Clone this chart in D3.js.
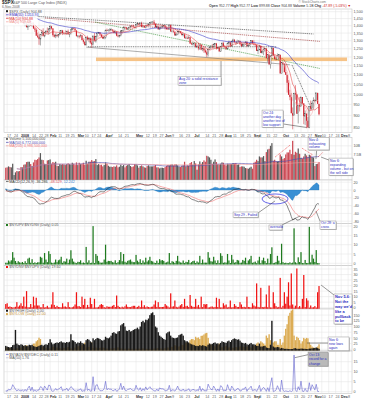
<!DOCTYPE html>
<html><head><meta charset="utf-8">
<script src="https://cdn.jsdelivr.net/npm/d3@7"></script>
<style>
body{margin:0;background:#fff}
svg{display:block;font-family:"Liberation Sans",Arial,sans-serif}
.ax text{fill:#555;font-size:3.7px}
.ax path{display:none}
</style>
</head><body>
<svg id="c" width="367" height="400"></svg>
<script>
// ---------------- DATA ----------------
// closes before the visible window (Oct 3 - Dec 13, 2007) for moving-average warm-up
const priorCloses = [1539.59,1542.84,1557.59,1552.58,1565.15,1562.47,1554.41,1561.80,1548.71,1538.53,1541.24,1540.08,1500.63,1506.33,1519.59,1515.88,1514.40,1535.28,1540.98,1531.02,1549.38,
1508.44,1509.65,1502.17,1520.27,1475.62,1474.77,1453.70,1439.18,1481.05,1470.58,1451.15,1458.74,1433.27,1439.70,1416.77,1440.70,1407.22,1428.23,1469.02,1469.72,1481.14,
1472.42,1462.79,1485.01,1507.34,1504.66,1515.96,1477.65,1486.59,1488.41];
// daily closes Dec 14 2007 .. Nov 6 2008
const closes = [
1467.95,1445.90,1454.98,1453.00,1460.12,1484.46,1496.45,1497.66,1476.27,1478.49,1468.36,
1447.16,1447.16,1411.63,1416.18,1390.19,1409.13,1420.33,1401.02,1416.25,1380.95,1373.20,1333.25,1325.19,1310.50,1338.60,1352.07,1330.61,1353.96,1362.30,1355.81,1378.55,
1395.42,1380.82,1336.64,1326.45,1336.91,1331.29,1339.13,1348.86,1367.21,1348.86,1349.99,1348.78,1360.03,1342.53,1353.11,1371.80,1381.29,1380.02,1367.68,1330.63,
1331.34,1326.75,1333.70,1304.34,1293.37,1273.37,1320.65,1308.77,1315.48,1288.14,1276.60,1330.74,1298.42,1329.51,1349.88,1352.99,1341.13,1325.76,1315.22,1322.70,
1370.18,1367.53,1369.31,1370.40,1372.54,1365.54,1354.49,1360.55,1332.83,1328.32,1334.43,1364.71,1365.56,1390.33,1388.17,1375.94,1379.93,1388.82,1397.84,1396.37,1390.94,1385.59,
1409.34,1413.90,1407.49,1418.26,1392.57,1397.68,1388.28,1403.58,1403.04,1408.66,1423.57,1425.35,1426.63,1413.40,1390.71,1394.35,1375.93,1385.35,1390.84,1398.26,1400.38,
1385.67,1377.65,1377.20,1404.05,1360.68,1361.76,1358.44,1335.49,1339.87,1360.03,1360.14,1350.93,1337.81,1342.83,1317.93,1318.00,1314.29,1321.97,1283.15,1278.38,1280.00,
1284.91,1261.52,1262.90,1252.31,1273.70,1244.69,1253.39,1239.49,1228.30,1214.91,1245.36,1260.32,1260.68,1260.00,1277.00,1282.19,1252.54,1257.76,1234.37,1263.20,1284.26,1267.38,
1260.31,1249.01,1284.88,1289.19,1266.07,1296.32,1305.32,1289.59,1285.83,1292.93,1298.20,1278.60,1266.69,1274.54,1277.72,1292.20,1266.84,1271.51,1281.66,1300.68,1282.83,
1277.58,1274.98,1236.83,1242.31,1267.79,1224.51,1232.04,1249.05,1251.70,1192.70,1213.60,1156.39,1206.51,1255.08,1207.09,1188.22,1185.87,1209.18,1213.27,1106.42,1166.36,
1161.06,1114.28,1099.23,1056.89,996.23,984.94,909.92,899.22,1003.35,998.01,907.84,946.43,940.55,985.40,955.05,896.78,908.11,876.77,848.92,940.51,930.09,954.09,968.75,
966.30,1005.75,952.77,904.88];
// intraday extension of the high above / the low below the candle body (index points)
const highExt = [
8,15,10,8,5,4,3,4,8,6,10,
6,8,3,10,14,3,8,15,5,10,12,10,20,18,2,20,30,4,8,25,5,
10,4,3,8,10,4,3,20,4,4,6,18,6,14,4,6,8,6,4,3,
4,4,10,4,10,3,2,12,8,6,30,3,20,3,8,5,4,4,13,8,
2,10,8,12,10,4,8,8,4,8,4,4,4,5,4,4,8,6,4,8,12,4,
2,8,4,4,10,6,4,4,8,4,2,4,4,14,4,12,4,8,6,4,4,
4,8,8,4,4,8,12,4,10,4,6,4,6,6,4,10,8,12,2,6,8,
4,4,11,22,4,4,4,8,12,8,2,4,10,18,6,4,4,2,4,4,6,10,
4,4,4,12,8,4,8,6,4,14,6,4,12,10,4,4,6,10,4,4,4,
20,3,0,1,6,0,11,0,3,0,0,0,4,10,0,7,9,12,2,0,3,
4,0,39,0,15,25,20,26,3,41,1,2,38,0,0,0,14,0,16,0,28,10,15,
6,1,0,0];
const lowExt = [
5,4,10,8,6,3,2,5,3,10,3,
5,6,3,16,2,20,18,4,8,2,15,3,8,36,40,8,2,8,6,8,15,
10,6,10,6,10,8,12,2,4,12,9,4,10,4,20,12,4,6,5,4,
10,12,6,2,12,4,4,6,18,8,20,6,4,10,2,6,8,2,4,6,
10,4,8,8,4,8,6,12,4,6,8,6,12,8,4,6,6,6,8,4,6,4,
6,4,4,10,4,8,4,6,6,6,12,6,6,4,6,6,4,4,8,6,6,
12,6,4,4,2,6,6,4,4,4,8,4,4,10,4,4,4,4,4,6,8,
12,6,4,12,10,4,10,14,6,15,12,4,4,8,8,6,8,4,4,4,4,8,
10,6,2,4,4,4,6,2,12,6,4,6,6,6,8,4,6,4,6,4,4,
6,12,1,20,0,1,4,21,16,1,24,0,23,0,2,1,6,0,22,0,0,
6,3,1,50,0,15,1,59,0,26,1,43,23,0,3,35,39,32,3,4,8,0,26,
4,0,1,5];
// volume, billions of shares
const volumeB = [
3.4,3.5,3.8,3.6,3.5,4.6,1.2,2.0,2.4,2.3,2.4,
3.6,3.5,4.3,4.4,5.1,5.2,5.2,4.5,3.9,5.0,5.8,5.7,6.0,6.5,7.8,5.8,5.7,4.6,4.5,5.6,5.7,
5.9,4.6,5.1,4.9,5.2,4.0,3.9,4.5,4.3,4.5,4.3,4.2,4.5,4.7,4.5,4.3,4.9,4.6,4.2,5.0,
4.2,4.9,4.5,4.5,4.9,4.3,5.5,4.6,5.2,5.2,5.7,5.3,5.4,6.0,4.2,4.5,4.2,4.3,3.8,4.2,
5.0,4.6,4.0,3.7,3.7,3.6,3.8,3.7,4.1,3.5,3.7,4.3,3.9,4.2,3.5,4.0,4.2,4.5,3.9,3.6,3.8,4.5,
4.4,4.1,3.4,3.9,4.1,3.8,3.5,3.4,3.9,4.1,3.8,3.8,3.8,3.9,4.2,3.5,3.5,3.2,3.4,3.4,3.3,
3.6,4.0,4.2,4.1,4.3,4.4,4.1,4.4,4.4,4.1,3.7,3.6,4.0,4.1,5.2,3.8,4.1,4.0,4.8,5.1,4.3,
5.4,4.7,2.8,4.4,5.3,4.6,5.1,5.6,5.2,7.0,6.8,6.5,5.8,4.6,5.2,5.9,5.1,4.4,4.3,4.6,5.0,4.9,
4.3,4.1,4.6,4.5,4.5,4.5,4.8,4.7,4.8,4.3,4.4,3.6,3.8,3.8,3.7,3.3,3.2,3.1,3.4,3.7,3.1,
4.9,5.2,5.8,5.4,6.8,6.5,6.5,6.9,5.4,8.1,8.9,9.1,10.0,10.8,5.5,5.8,5.3,5.3,5.4,7.4,6.8,
6.0,6.3,7.4,8.0,8.0,8.8,7.5,11.5,7.3,8.2,7.9,9.2,7.6,6.4,6.2,6.8,7.6,7.1,6.6,7.3,7.1,6.6,6.5,
3.9,4.5,4.6,5.1];
// $NYUPV:$NYDNV
const upDownVol = [
0.3,0.25,1.5,0.9,1.6,6,3,1.2,0.2,1.1,0.5,
0.25,0.7,0.1,1.1,0.07,2.5,3,0.3,2.2,0.1,0.5,0.11,0.5,0.5,3.5,3,0.3,5.5,2,0.6,6.5,
5,0.35,0.07,0.4,2,0.6,1.6,2,3.5,0.25,1.1,0.9,2.5,0.2,2,7,2.5,0.9,0.35,0.07,
0.8,0.7,1.6,0.1,0.4,0.12,8.8,0.4,1.6,0.11,0.3,20,0.12,5,4,1.3,0.4,0.3,0.4,2,
10,0.8,1.3,1.2,1.3,0.6,0.4,1.6,0.09,0.6,1.7,6,1.1,5,0.8,0.35,1.3,1.6,2,0.9,0.6,0.6,
4.5,1.4,0.6,2.2,0.15,1.5,0.45,3,0.9,1.6,3.5,1.3,1.0,0.35,0.15,1.4,0.2,2.2,1.5,1.7,1.3,
0.3,0.5,0.9,5.5,0.075,1.1,0.8,0.15,1.3,4,1.0,0.45,0.3,1.5,0.12,0.8,0.6,1.8,0.087,0.6,1.2,
1.4,0.12,1.0,0.4,4,0.1,2,0.3,0.35,0.3,6,3,1.1,0.9,3.5,1.5,0.11,1.6,0.12,5.4,4,0.25,
0.5,0.35,5,1.5,0.15,4.5,2,0.3,0.6,1.8,1.5,0.2,0.35,1.8,1.3,3,0.1,1.5,2.2,4,0.25,
0.5,0.9,0.045,1.5,3.5,0.055,1.6,3,1.2,0.08,2.5,0.05,5,8.6,0.07,0.25,0.7,4,1.4,0.037,10.5,
0.6,0.07,0.28,0.1,0.043,0.5,0.032,0.35,18.8,0.55,0.028,3.2,0.65,6,0.12,0.034,1.8,0.12,0.15,19.6,0.5,4.6,2.5,
0.7,7.1,0.07,0.05];
// $NYDNV:$NYUPV
const downUpVol = [
3.3,4,0.7,1.1,0.6,0.17,0.33,0.8,5,0.9,2,
4,1.4,10,0.9,15,0.4,0.33,3.3,0.45,10,2,9,2,2,0.29,0.33,3.3,0.18,0.5,1.7,0.15,
0.2,2.9,14,2.5,0.5,1.7,0.6,0.5,0.29,4,0.9,1.1,0.4,5,0.5,0.14,0.4,1.1,2.9,14,
1.25,1.4,0.6,10,2.5,8,0.11,2.5,0.6,9,3.3,0.05,8,0.2,0.25,0.8,2.5,3.3,2.5,0.5,
0.1,1.25,0.8,0.8,0.8,1.7,2.5,0.6,11,1.7,0.6,0.17,0.9,0.2,1.25,2.9,0.8,0.6,0.5,1.1,1.7,1.7,
0.22,0.7,1.7,0.45,6.5,0.7,2.2,0.33,1.1,0.6,0.29,0.8,1.0,2.9,6.5,0.7,5,0.45,0.65,0.6,0.8,
3.3,2,1.1,0.18,13,0.9,1.25,6.5,0.8,0.25,1.0,2.2,3.3,0.7,8,1.25,1.7,0.55,11.5,1.7,0.8,
0.7,8,1.0,2.5,0.25,10,0.5,3.3,2.9,3.3,0.17,0.33,0.9,1.1,0.29,0.7,9,0.6,8,0.19,0.25,4,
2,2.9,0.2,0.7,6.5,0.22,0.5,3.3,1.7,0.55,0.65,5,2.9,0.55,0.8,0.33,10,0.65,0.45,0.25,4,
2,1.1,22,0.7,0.29,18,0.6,0.33,0.8,12,0.4,20,0.2,0.12,14,4,1.4,0.25,0.7,27,0.095,
1.7,14,3.6,10,23,2,31,2.9,0.053,1.8,35.5,0.31,1.5,0.17,8,29.6,0.55,8.5,6.5,0.05,2,0.22,0.4,
1.4,0.14,14,19.6];
// $NYHGH (black) and $NYLOW (gold)
const newHighs = [
15,12,10,8,10,18,20,85,25,20,18,
22,20,15,18,14,16,20,18,20,14,12,10,12,15,18,20,16,20,22,20,28,
44,30,22,25,28,30,28,32,35,30,30,28,32,30,33,66,40,38,32,25,
30,28,35,28,25,22,40,45,42,35,30,48,40,45,50,48,45,40,38,42,
55,50,48,52,60,72,75,70,68,78,80,105,110,115,100,82,80,85,78,80,85,88,
90,95,88,100,120,125,118,130,128,135,150,158,162,150,100,95,75,60,55,50,45,
42,70,75,78,60,52,50,48,50,52,62,65,68,60,40,35,35,30,25,22,20,
18,15,15,14,18,15,18,16,14,12,20,25,22,24,28,30,25,26,22,28,35,32,
30,28,35,38,32,40,45,48,45,42,44,38,30,28,25,28,22,20,24,28,22,
22,20,15,15,25,12,12,14,15,8,6,5,20,125,12,8,8,10,9,3,6,
4,2,2,2,1,1,1,1,4,5,2,2,2,3,3,2,2,1,1,3,3,4,5,
6,8,5,2];
const newLows = [
5,8,6,6,5,3,2,2,5,4,6,
8,8,15,12,18,10,6,12,8,25,25,35,40,51,45,10,12,6,5,8,4,
3,6,12,10,6,8,6,5,3,8,6,6,4,10,6,3,3,4,8,18,
12,15,10,18,20,29,8,12,10,20,30,6,15,8,4,4,6,8,8,6,
3,3,3,3,3,4,5,4,8,8,6,3,3,2,2,4,3,3,2,2,3,3,
2,2,3,2,4,3,4,2,2,2,2,2,2,3,5,4,6,4,3,3,3,
5,8,8,4,12,10,12,18,15,10,12,15,20,18,25,28,30,28,40,45,45,
40,55,50,52,45,59,60,65,70,72,50,25,20,18,15,12,20,18,25,10,8,10,
12,15,8,8,12,8,6,8,10,8,6,12,15,12,10,8,12,12,10,6,10,
15,15,25,30,15,35,30,25,20,60,50,66,40,15,30,35,35,20,20,45,20,
30,60,90,110,147,160,170,175,60,40,55,50,40,25,35,50,45,50,48,30,20,12,8,
6,4,12,22];
// $NYADV:$NYDEC
const advDecl = [
0.4,0.3,1.3,1.0,1.4,3.5,2.4,1.2,0.35,1.0,0.6,
0.4,0.8,0.2,1.1,0.25,1.8,2.8,0.45,2.3,0.2,0.8,0.2,0.7,0.9,2.5,2.2,0.5,2.8,1.8,0.8,3.3,
3,0.5,0.15,0.6,1.6,0.7,1.4,1.7,2.5,0.4,1.0,0.9,1.8,0.4,1.5,2.5,2,0.9,0.5,0.2,
0.8,0.8,1.5,0.2,0.5,0.3,4.5,0.6,1.3,0.25,0.4,7.5,0.3,3.2,3.5,1.4,0.5,0.5,0.6,1.5,
5.2,0.9,1.5,1.2,1.3,0.6,0.5,1.3,0.2,0.6,1.4,4.2,1.0,2.8,0.8,0.5,1.1,1.3,1.6,0.9,0.6,0.7,
3.2,1.3,0.7,2,0.3,1.5,0.6,2.4,0.9,1.8,2.5,1.4,1.0,0.5,0.3,1.3,0.35,1.9,1.4,1.5,1.3,
0.4,0.6,0.9,3.2,0.15,0.9,0.8,0.3,1.2,2.8,1.0,0.6,0.45,1.3,0.25,0.7,0.7,1.5,0.15,0.7,1.1,
1.0,0.25,0.9,0.5,2.8,0.2,1.6,0.5,0.5,0.4,3.8,2.2,1.2,1.0,2.8,1.6,0.2,1.4,0.25,3,2.5,0.4,
0.7,0.5,3.5,1.4,0.3,2.8,1.8,0.4,0.7,1.6,1.5,0.35,0.5,1.5,1.2,2.4,0.2,1.4,1.8,2.8,0.45,
0.8,1.1,0.15,1.5,3.2,0.15,1.4,2.2,1.3,0.2,2,0.12,4,7,0.15,0.35,0.8,3,1.4,0.08,5.8,
0.7,0.12,0.4,0.2,0.08,0.5,0.06,0.5,18.3,0.8,0.05,2.5,0.8,5.3,0.25,0.07,1.6,0.2,0.2,4.5,0.6,3.5,2.2,
0.9,3.7,0.12,0.11];
// first visible bar is 11 trading days before Jan 2 2008 (index 0)
const firstDayIndex = -11;
// date axis: trading-day index of each label
const tickIdx = [-10,-5,0,8,13,17,21,27,32,36,41,46,51,55,61,65,70,75,83,90,95,100,104,109,114,119,125,133,138,143,147,153,158,163,168,172,177,182,189,197,202,207,212,217,222,227,231,236];
const tickLabels = ["17","24","2008","14","22","28","Feb","11","19","25","Mar","10","17","24","Apr","7","14","21","May","12","19","27","Jun","9","16","23","Jul","14","21","28","Aug","11","18","25","Sep","8","15","22","Oct","13","20","27","Nov","10","17","24","Dec","8"];
const boldLabels = ["2008","Feb","Mar","Apr","May","Jun","Jul","Aug","Sep","Oct","Nov","Dec"];
const priceTicks = [850,900,950,1000,1050,1100,1150,1200,1250,1300,1350,1400,1450,1500];
const volTicks = [7.5,10];
const macdTicks = [-80,-60,-40,-20,0,20];
const upTicks = [0,5,10,15,20];
const dnTicks = [0,5,10,15,20,25,30,35];
const hlTicks = [0,25,50,75,100,125,150];
const adTicks = [0,5,10,15];

// ---------------- LAYOUT ----------------
const L = 4, R = 352;
const P = {
  price:{top:9,bot:132.5}, vol:{top:137.5,bot:180}, macd:{top:180,bot:223.5},
  up:{top:223.5,bot:265.5}, dn:{top:265.5,bot:309}, hl:{top:309,bot:351}, ad:{top:351,bot:393.5}
};
const svg = d3.select('#c');
const x = d3.scaleLinear().domain([-12.27,238.8]).range([L,R]);
const yP = d3.scaleLog().domain([827.3,1520]).range([P.price.bot,P.price.top]);
const yV = d3.scaleLinear().domain([-0.3,12.5]).range([P.vol.bot,P.vol.top]);
const yM = d3.scaleLinear().domain([-85.9,25.6]).range([P.macd.bot,P.macd.top]);
const yU = d3.scaleLinear().domain([-1.2,21.4]).range([P.up.bot,P.up.top]);
const yD = d3.scaleLinear().domain([-1.2,38.2]).range([P.dn.bot,P.dn.top]);
const yH = d3.scaleLinear().domain([-7.5,176.8]).range([P.hl.bot,P.hl.top]);
const yA = d3.scaleLinear().domain([-0.9,20.35]).range([P.ad.bot,P.ad.top]);

const N = closes.length;
const days = d3.range(N).map(i => i + firstDayIndex);
const allC = priorCloses.concat(closes);
const off = priorCloses.length;
function smaAt(arr,n,k){ if(k<n-1) return null; let s=0; for(let j=k-n+1;j<=k;j++) s+=arr[j]; return s/n; }
function ema(arr,n){ const a=2/(n+1); let e=arr[0]; return arr.map((v,i)=> (e = i===0 ? v : a*v+(1-a)*e)); }
const ema50 = ema(allC,50).slice(off);
const ma10 = d3.range(N).map(i=>smaAt(allC,10,i+off));
const ma5 = d3.range(N).map(i=>smaAt(allC,5,i+off));
const e12 = ema(allC,12), e26 = ema(allC,26);
const macdAll = e12.map((v,i)=>v-e26[i]);
const sigAll = ema(macdAll,9);
const macd = macdAll.slice(off), sig = sigAll.slice(off);
const hist = macd.map((v,i)=>v-sig[i]);
const volMA = (n)=> d3.range(N).map(i=>{ const s=Math.max(0,i-n+1); return d3.mean(volumeB.slice(s,i+1)); });
const volMA50 = volMA(50), volMA200 = volMA(200);
const adMA = d3.range(N).map(i=>{ const s=Math.max(0,i-49); return d3.mean(advDecl.slice(s,i+1)); });

// ---------------- PANELS ----------------
function panel(key, yS, ticks, fmt){
  const p = P[key];
  svg.append('rect').attr('x',L).attr('y',p.top).attr('width',R-L).attr('height',p.bot-p.top)
    .attr('fill','#fff').attr('stroke','#b8b8b8').attr('stroke-width',0.5);
  const g = svg.append('g');
  g.selectAll(null).data(tickIdx).join('line')
    .attr('x1',d=>x(d)).attr('x2',d=>x(d)).attr('y1',p.top).attr('y2',p.bot)
    .attr('stroke','#e2e2e2').attr('stroke-width',0.5);
  g.selectAll(null).data(ticks).join('line')
    .attr('x1',L).attr('x2',R).attr('y1',d=>yS(d)).attr('y2',d=>yS(d))
    .attr('stroke','#e2e2e2').attr('stroke-width',0.5);
  svg.append('g').attr('class','ax').attr('transform',`translate(${R+1.5},0)`)
    .call(d3.axisRight(yS).tickValues(ticks).tickFormat(fmt).tickSize(0).tickPadding(0));
  svg.append('clipPath').attr('id','cp-'+key).append('rect')
    .attr('x',L).attr('y',p.top).attr('width',R-L).attr('height',p.bot-p.top);
  return svg.append('g').attr('clip-path',`url(#cp-${key})`);
}
function dateAxis(yPos){
  const a = svg.append('g').attr('class','ax').attr('transform',`translate(0,${yPos})`)
    .call(d3.axisBottom(x).tickValues(tickIdx).tickFormat((d,i)=>tickLabels[i]).tickSize(0).tickPadding(0));
  a.selectAll('text').attr('text-anchor','start').attr('dx','-0.6')
    .style('font-weight',function(){ return boldLabels.includes(this.textContent)?'bold':'normal'; })
    .style('fill',function(){ return boldLabels.includes(this.textContent)?'#333':'#666'; });
}
function legend(yPos, items){
  const g = svg.append('g');
  let cx = 6;
  items.forEach(it=>{
    if(it.mark==='sq') g.append('rect').attr('x',cx).attr('y',yPos-2.3).attr('width',2).attr('height',2).attr('fill',it.color);
    else if(it.mark==='ln') g.append('line').attr('x1',cx).attr('x2',cx+2.6).attr('y1',yPos-1.2).attr('y2',yPos-1.2).attr('stroke',it.color).attr('stroke-width',0.7);
    const t = g.append('text').attr('x',cx+3.3).attr('y',yPos).attr('font-size',3.6).attr('fill',it.tc||'#555');
    it.parts.forEach(pt=>t.append('tspan').attr('fill',pt[1]||it.tc||'#555').text(pt[0]));
  });
}
const f2 = d3.format(',.2f');

// ===== header =====
svg.append('text').attr('x',2).attr('y',4.3).attr('font-size',4.6).attr('font-weight','bold').attr('fill','#222').text('$SPX');
svg.append('text').attr('x',13).attr('y',4.1).attr('font-size',3.6).attr('fill','#555').text('S&P 500 Large Cap Index (INDX)');
svg.append('text').attr('x',2).attr('y',8).attr('font-size',3.4).attr('fill','#666').text('6-Nov-2008');
svg.append('text').attr('x',326).attr('y',3.2).attr('font-size',3.2).attr('text-anchor','end').attr('fill','#777').text('© StockCharts.com');
{
  const last = N-1, o = closes[last-1], c = closes[last];
  const h = Math.max(o,c)+highExt[last], l = Math.min(o,c)-lowExt[last];
  const t = svg.append('text').attr('x',351).attr('y',7.3).attr('font-size',3.5).attr('text-anchor','end').attr('fill','#444');
  const parts = [['Open ',1],[o.toFixed(2)+'  ',0],['High ',1],[h.toFixed(2)+'  ',0],['Low ',1],[l.toFixed(2)+'  ',0],
    ['Close ',1],[c.toFixed(2)+'  ',0],['Volume ',1],[volumeB[last].toFixed(1)+'B  ',0],['Chg ',1],
    [(c-o).toFixed(2)+' ('+((c-o)/o*100).toFixed(2)+'%) ▼',2]];
  parts.forEach(p=>t.append('tspan').attr('font-weight',p[1]===1?'bold':'normal').attr('fill',p[1]===2?'#cc2222':'#444').text(p[0]));
}

// ===== price panel =====
const gP = panel('price', yP, priceTicks, d3.format(','));
const priceBand = {i1:54.1, i2:235.2, lo:1176, hi:1197};
gP.append('rect').attr('x',x(priceBand.i1)).attr('width',x(priceBand.i2)-x(priceBand.i1))
  .attr('y',yP(priceBand.hi)).attr('height',yP(priceBand.lo)-yP(priceBand.hi)).attr('fill','#f5bd7a').attr('opacity',0.9);
const trendLines = [
  {i1:6.5,p1:1469,i2:211,p2:1344,c:'#333',d:'1.3,0.8'},
  {i1:17.3,p1:1454,i2:215.7,p2:1296,c:'#9a2a2a',d:'1.3,0.8'},
  {i1:53.4,p1:1425,i2:215.7,p2:1134,c:'#2e8b2e',d:'1.3,0.8'},
  {i1:48.3,p1:1262,i2:184.7,p2:1262,c:'#222',d:'1,0.8'},
  {i1:47,p1:1260,i2:194,p2:1155,c:'#777',d:null},
  {i1:195.5,p1:1154,i2:210,p2:924,c:'#222',d:'1,0.8'}
];
gP.selectAll(null).data(trendLines).join('line')
  .attr('x1',d=>x(d.i1)).attr('y1',d=>yP(d.p1)).attr('x2',d=>x(d.i2)).attr('y2',d=>yP(d.p2))
  .attr('stroke',d=>d.c).attr('stroke-width',0.6).attr('stroke-dasharray',d=>d.d);
// candles
const candles = d3.range(N).map(i=>{
  const o = i===0 ? priorCloses[priorCloses.length-1] : closes[i-1], c = closes[i];
  return {d:days[i], o, c, h:Math.max(o,c)+highExt[i], l:Math.min(o,c)-lowExt[i]};
});
gP.selectAll(null).data(candles).join('line')
  .attr('x1',d=>x(d.d)).attr('x2',d=>x(d.d)).attr('y1',d=>yP(d.h)).attr('y2',d=>yP(d.l))
  .attr('stroke',d=>d.c<d.o?'#cc1f2a':'#555').attr('stroke-width',0.5);
gP.selectAll(null).data(candles).join('rect')
  .attr('x',d=>x(d.d)-0.55).attr('width',1.1)
  .attr('y',d=>yP(Math.max(d.o,d.c))).attr('height',d=>Math.max(0.5,yP(Math.min(d.o,d.c))-yP(Math.max(d.o,d.c))))
  .attr('fill',d=>d.c<d.o?'#d0202c':'#fff').attr('stroke',d=>d.c<d.o?'none':'#444').attr('stroke-width',0.35);
const lineP = (arr)=> d3.line().defined(d=>d!=null).x((d,i)=>x(days[i])).y(d=>yP(d))(arr);
gP.append('path').attr('d',lineP(ema50)).attr('fill','none').attr('stroke','#3a3ac8').attr('stroke-width',0.6);
gP.append('path').attr('d',lineP(ma10)).attr('fill','none').attr('stroke','#e03030').attr('stroke-width',0.5);
gP.append('path').attr('d',lineP(ma5)).attr('fill','none').attr('stroke','#f4a0a0').attr('stroke-width',0.5);
svg.append('rect').attr('x',L+0.5).attr('y',P.price.top+0.5).attr('width',33).attr('height',16).attr('fill','#fff').attr('opacity',0.9);
legend(12.5,[{mark:'sq',color:'#222',parts:[['$SPX (Daily) '+f2(closes[N-1])]]}]);
legend(16,[{mark:'ln',color:'#3a3ac8',parts:[['EMA(50) '+f2(ema50[N-1]),'#3a3ac8']]}]);
legend(19.5,[{mark:'ln',color:'#e03030',parts:[['MA(10) '+f2(ma10[N-1]),'#e03030']]}]);
legend(23,[{mark:'ln',color:'#f4a0a0',parts:[['MA(5) '+f2(ma5[N-1]),'#e88']]}]);

dateAxis(134.2);

// ===== volume =====
const gV = panel('vol', yV, volTicks, d=>d+'B');
gV.selectAll(null).data(d3.range(N)).join('rect')
  .attr('x',i=>x(days[i])-0.62).attr('width',1.24)
  .attr('y',i=>yV(volumeB[i])).attr('height',i=>yV(0)-yV(volumeB[i])+1)
  .attr('fill',i=>candles[i].c<candles[i].o?'#cd4a55':'#5a5a5a');
const lineV = (arr,s)=> d3.line().x((d,i)=>x(days[i+s])).y(d=>yV(d))(arr.slice(s));
gV.append('path').attr('d',lineV(volMA50,8)).attr('fill','none').attr('stroke','#4a4ab0').attr('stroke-width',0.6);
gV.append('path').attr('d',lineV(volMA200,8)).attr('fill','none').attr('stroke','#f09a9a').attr('stroke-width',0.6);
const volTrends = [{i1:183.3,v1:6.6,i2:194.1,v2:10.2},{i1:202.7,v1:9.3,i2:210.7,v2:7.2},{i1:214.3,v1:6.6,i2:217.9,v2:8.1}];
svg.selectAll(null).data(volTrends).join('line')
  .attr('x1',d=>x(d.i1)).attr('y1',d=>yV(d.v1)).attr('x2',d=>x(d.i2)).attr('y2',d=>yV(d.v2))
  .attr('stroke','#e82020').attr('stroke-width',0.6).attr('stroke-dasharray','1,0.8');
legend(140.2,[{mark:'sq',color:'#666',parts:[['Volume '+d3.format(',')(Math.round(volumeB[N-1]*1e9))]]}]);
legend(143.6,[{mark:'ln',color:'#4a4ab0',parts:[['MA(50) '+d3.format(',')(Math.round(volMA50[N-1]*1e9)),'#4a4ab0']]}]);
legend(147,[{mark:'ln',color:'#f09a9a',parts:[['MA(200) '+d3.format(',')(Math.round(volMA200[N-1]*1e9)),'#e77']]}]);

// ===== MACD =====
const gM = panel('macd', yM, macdTicks, d=>d);
gM.append('path').attr('d',d3.area().x((d,i)=>x(days[i])).y0(yM(0)).y1(d=>yM(d))(hist))
  .attr('fill','#3a90d4').attr('stroke','#1f6fb2').attr('stroke-width',0.3);
const lineM = (arr)=> d3.line().x((d,i)=>x(days[i])).y(d=>yM(d))(arr);
gM.append('path').attr('d',lineM(sig)).attr('fill','none').attr('stroke','#f07070').attr('stroke-width',0.6);
gM.append('path').attr('d',lineM(macd)).attr('fill','none').attr('stroke','#333').attr('stroke-width',0.6);
legend(182.6,[{mark:'ln',color:'#333',parts:[['MACD(12,26,9) '+macd[N-1].toFixed(3),'#333'],[', '+sig[N-1].toFixed(3),'#e05050'],[', '+hist[N-1].toFixed(3),'#3a7fd0']]}]);
const ell = {i:183.3, v:-23};
svg.append('ellipse').attr('cx',x(ell.i)).attr('cy',yM(ell.v)).attr('rx',13).attr('ry',5)
  .attr('fill','none').attr('stroke','#2a2ae0').attr('stroke-width',0.7);

// ===== $NYUPV:$NYDNV =====
const gU = panel('up', yU, upTicks, d=>d);
gU.selectAll(null).data(d3.range(N)).join('rect')
  .attr('x',i=>x(days[i])-0.62).attr('width',1.24)
  .attr('y',i=>yU(upDownVol[i])).attr('height',i=>yU(0)-yU(upDownVol[i])+1.3).attr('fill','#1f7a1f');
legend(226.3,[{mark:'sq',color:'#1f7a1f',parts:[['$NYUPV:$NYDNV (Daily) '+upDownVol[N-1].toFixed(2)]]}]);

// ===== $NYDNV:$NYUPV =====
const gD = panel('dn', yD, dnTicks, d=>d);
gD.selectAll(null).data(d3.range(N)).join('rect')
  .attr('x',i=>x(days[i])-0.62).attr('width',1.24)
  .attr('y',i=>yD(downUpVol[i])).attr('height',i=>yD(0)-yD(downUpVol[i])+1.3).attr('fill','#f01414');
legend(268.3,[{mark:'sq',color:'#f01414',parts:[['$NYDNV:$NYUPV (Daily) '+downUpVol[N-1].toFixed(2)]]}]);

// ===== new highs / new lows =====
const gH = panel('hl', yH, hlTicks, d=>d);
gH.selectAll(null).data(d3.range(N)).join('rect')
  .attr('x',i=>x(days[i])-0.7).attr('width',1.4)
  .attr('y',i=>yH(newLows[i])).attr('height',i=>yH(0)-yH(newLows[i])+1.5).attr('fill','#dcad55');
gH.selectAll(null).data(d3.range(N)).join('rect')
  .attr('x',i=>x(days[i])-0.7).attr('width',1.4)
  .attr('y',i=>yH(newHighs[i])).attr('height',i=>yH(0)-yH(newHighs[i])+1.5).attr('fill','#1a1a1a');
legend(312,[{mark:'sq',color:'#1a1a1a',parts:[['$NYHGH (Daily) '+newHighs[N-1].toFixed(2)]]}]);
legend(315.4,[{mark:'sq',color:'#dcad55',parts:[['$NYLOW (Daily) '+newLows[N-1].toFixed(2),'#c9963a']]}]);

// ===== $NYADV:$NYDEC =====
const gA = panel('ad', yA, adTicks, d=>d);
gA.append('path').attr('d',d3.line().x((d,i)=>x(days[i])).y(d=>yA(d))(adMA)).attr('fill','none').attr('stroke','#b8b8d8').attr('stroke-width',0.5);
gA.append('path').attr('d',d3.line().x((d,i)=>x(days[i])).y(d=>yA(d))(advDecl)).attr('fill','none').attr('stroke','#6464d0').attr('stroke-width',0.6);
legend(355.6,[{mark:'ln',color:'#6464d0',parts:[['$NYADV:$NYDEC (Daily) '+advDecl[N-1].toFixed(2)]]}]);
legend(359,[{mark:'ln',color:'#b8b8d8',parts:[['MA(50) '+adMA[N-1].toFixed(2)]]}]);

dateAxis(395.3);

// ---------------- ANNOTATIONS ----------------
const yOf = {price:yP, vol:yV, macd:yM, up:yU, dn:yD, hl:yH, ad:yA};
const notes = [
  {p:'price', i:113.3, v:1089, w:43, lh:3.6, lines:['Aug 20: a solid resistance','zone'],
   link:{p:'price', i1:144.3, v1:1176, i2:144.3, v2:1089}},
  {p:'price', i:173.9, v:924, w:21, lh:4, lines:['Oct 24:','another day','another test of','low support'],
   link:{p:'price', i1:189, v1:863, i2:206, v2:848}},
  {p:'vol', i:207.1, v:12.55, w:21, lh:3.8, lines:['Nov 4:','exhausting','volume'],
   link:{p:'vol', i1:213.3, v1:8.6, i2:212.8, v2:6.0}},
  {p:'vol', i:222.2, v:6.3, w:24, lh:4, lines:['Nov 6:','expanding','volume - but on','the sell side'],
   link:{p:'vol', i1:222.2, v1:5.7, i2:216.5, v2:6.6}},
  {p:'macd', i:153, v:-56.4, w:25, lh:4.2, lines:['Sep 29 - Failed'],
   link:{p:'macd', i1:171, v1:-59, i2:183.3, v2:-28}},
  {p:'up', i:178.9, v:20.6, w:13, lh:3.8, lines:['oversold'],
   link:{p:'macd', i1:188.3, v1:-89.7, i2:201.3, v2:-66.7}},
  {p:'macd', i:215.7, v:-79.5, w:16, lh:3.5, lines:['Oct 28: a','cross'],
   link:{p:'macd', i1:212.8, v1:-53.8, i2:215.7, v2:-79.5}},
  {p:'dn', i:225.8, v:12.4, w:18, lh:4.8, big:true, lines:['Nov 5-6:','Not the','way we\u2019d','like a','pullback','to be'],
   link:{p:'dn', i1:216.5, v1:20.5, i2:225.8, v2:11.5}},
  {p:'hl', i:221.5, v:54, w:21, lh:4.2, lines:['Nov 6:','new lows','again'],
   link:{p:'hl', i1:206.3, v1:27.6, i2:221.5, v2:27.6}},
  {p:'ad', i:207.1, v:19.85, w:20, lh:4.3, gray:true, lines:['Oct 13:','record for a','change'],
   link:{p:'ad', i1:197.5, v1:17, i2:207.1, v2:18.5}}
];
const gN = svg.append('g');
notes.forEach(n=>{
  const ys = yOf[n.link.p];
  gN.append('line').attr('x1',x(n.link.i1)).attr('y1',ys(n.link.v1)).attr('x2',x(n.link.i2)).attr('y2',ys(n.link.v2))
    .attr('stroke','#333').attr('stroke-width',0.5);
});
notes.forEach(n=>{
  const bx = x(n.i), by = yOf[n.p](n.v), h = n.lines.length*n.lh+1.2;
  gN.append('rect').attr('x',bx+0.8).attr('y',by+0.8).attr('width',n.w).attr('height',h).attr('fill','#bbb');
  gN.append('rect').attr('x',bx).attr('y',by).attr('width',n.w).attr('height',h)
    .attr('fill',n.gray?'#b9b9b9':'#fff').attr('stroke','#8a8a8a').attr('stroke-width',0.45);
  n.lines.forEach((s,k)=>gN.append('text').attr('x',bx+1).attr('y',by+n.lh*(k+1)-0.3)
    .attr('font-size',n.big?3.9:3.4).attr('font-weight',n.big?'bold':'normal')
    .attr('fill','#2b2bc0').text(s));
});
</script>
</body></html>
